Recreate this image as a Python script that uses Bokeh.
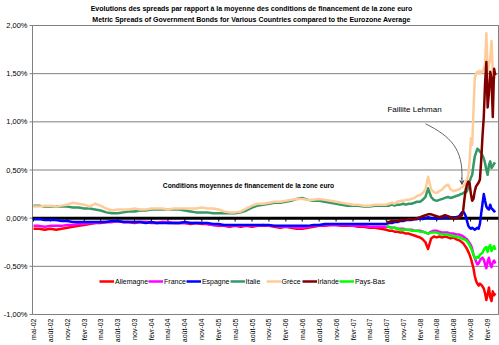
import math
import pandas as pd
from bokeh.plotting import figure
from bokeh.models import Range1d, Legend, LegendItem, Label, Arrow, VeeHead
from bokeh.embed import file_html
from bokeh.resources import INLINE

FONT = "Liberation Sans"

# ---- dates: monthly, then semi-monthly, then weekly ----
start = pd.Timestamp("2002-05-01")
dates = (list(pd.date_range("2002-05-01", "2007-07-01", freq="MS"))
         + list(pd.date_range("2007-08-01", "2008-08-15", freq="SMS"))
         + list(pd.date_range("2008-09-01", "2009-03-16", freq="7D")))
xdays = [(d - start).days for d in dates]

# ---- series (% spread vs eurozone average) ----
allemagne = [-0.11, -0.11, -0.12, -0.11, -0.12, -0.11, -0.10, -0.09, -0.08, -0.07, -0.06, -0.05,
             -0.05, -0.04, -0.04, -0.03, -0.04, -0.04, -0.05, -0.04, -0.04, -0.05, -0.05, -0.04,
             -0.05, -0.05, -0.05, -0.05, -0.06, -0.05, -0.06, -0.06, -0.07, -0.08, -0.08, -0.09,
             -0.08, -0.09, -0.08, -0.09, -0.08, -0.08, -0.08, -0.09, -0.10, -0.09, -0.10, -0.11,
             -0.11, -0.10, -0.09, -0.08, -0.08, -0.07, -0.07, -0.08, -0.08, -0.08, -0.09, -0.09, -0.10, -0.10, -0.11,
             -0.12, -0.13, -0.13, -0.14, -0.14, -0.15, -0.15, -0.16, -0.16, -0.17, -0.18, -0.19, -0.20,
             -0.22, -0.25, -0.32, -0.21, -0.19, -0.20, -0.19, -0.20, -0.19, -0.20, -0.21, -0.20, -0.22,
             -0.23, -0.24, -0.25, -0.26, -0.28, -0.30, -0.32, -0.35, -0.38, -0.42, -0.47, -0.52, -0.60,
             -0.65, -0.68, -0.70, -0.68, -0.69, -0.71, -0.73, -0.78, -0.85, -0.79, -0.72, -0.82, -0.86,
             -0.76, -0.80, -0.78]
france = [-0.08, -0.08, -0.09, -0.08, -0.08, -0.08, -0.07, -0.07, -0.06, -0.06, -0.05, -0.05,
          -0.04, -0.04, -0.04, -0.03, -0.04, -0.04, -0.04, -0.04, -0.04, -0.04, -0.05, -0.04,
          -0.04, -0.05, -0.05, -0.05, -0.05, -0.05, -0.05, -0.06, -0.07, -0.07, -0.08, -0.08,
          -0.08, -0.08, -0.08, -0.08, -0.08, -0.07, -0.08, -0.08, -0.09, -0.09, -0.09, -0.10,
          -0.10, -0.09, -0.08, -0.08, -0.07, -0.07, -0.07, -0.07, -0.07, -0.08, -0.08, -0.08, -0.09, -0.09, -0.09,
          -0.09, -0.09, -0.10, -0.10, -0.11, -0.11, -0.11, -0.12, -0.12, -0.12, -0.13, -0.13, -0.13,
          -0.14, -0.15, -0.16, -0.14, -0.13, -0.13, -0.14, -0.15, -0.15, -0.15, -0.16, -0.16, -0.17,
          -0.17, -0.18, -0.18, -0.19, -0.20, -0.21, -0.22, -0.24, -0.26, -0.28, -0.32, -0.38, -0.41,
          -0.45, -0.48, -0.47, -0.44, -0.42, -0.41, -0.43, -0.48, -0.52, -0.45, -0.41, -0.48, -0.51,
          -0.46, -0.44, -0.47]
espagne = [-0.01, -0.01, -0.02, -0.02, -0.02, -0.03, -0.03, -0.04, -0.04, -0.04, -0.04, -0.04,
           -0.04, -0.04, -0.03, -0.03, -0.04, -0.04, -0.04, -0.04, -0.05, -0.04, -0.05, -0.05,
           -0.05, -0.05, -0.05, -0.04, -0.05, -0.05, -0.05, -0.05, -0.06, -0.06, -0.07, -0.07,
           -0.07, -0.07, -0.07, -0.07, -0.07, -0.07, -0.07, -0.08, -0.08, -0.08, -0.08, -0.08,
           -0.08, -0.08, -0.07, -0.07, -0.06, -0.06, -0.06, -0.06, -0.06, -0.06, -0.06, -0.06, -0.06, -0.06, -0.06,
           -0.06, -0.05, -0.05, -0.04, -0.04, -0.03, -0.03, -0.02, -0.02, -0.02, -0.01, -0.01, 0.00,
           -0.01, 0.00, 0.01, 0.00, 0.00, -0.01, 0.00, 0.00, 0.01, 0.00, 0.01, 0.01, 0.01,
           0.02, 0.04, 0.06, 0.07, 0.05, 0.02, -0.03, -0.08, -0.10, -0.11, -0.10, -0.11, -0.12,
           -0.11, -0.10, -0.11, -0.06, 0.05, 0.15, 0.25, 0.18, 0.12, 0.10, 0.09, 0.14, 0.10,
           0.09, 0.07, 0.08]
italie = [0.13, 0.13, 0.12, 0.12, 0.12, 0.12, 0.12, 0.11, 0.11, 0.10, 0.10, 0.09,
          0.08, 0.06, 0.05, 0.05, 0.06, 0.07, 0.07, 0.08, 0.08, 0.09, 0.09, 0.09,
          0.09, 0.09, 0.09, 0.08, 0.07, 0.06, 0.06, 0.06, 0.05, 0.05, 0.05, 0.05,
          0.05, 0.06, 0.08, 0.11, 0.13, 0.14, 0.15, 0.16, 0.16, 0.17, 0.18, 0.20,
          0.21, 0.19, 0.18, 0.18, 0.17, 0.16, 0.15, 0.14, 0.13, 0.13, 0.13, 0.12, 0.12, 0.13, 0.13,
          0.13, 0.13, 0.14, 0.13, 0.14, 0.14, 0.15, 0.14, 0.15, 0.15, 0.16, 0.17, 0.17,
          0.19, 0.22, 0.31, 0.22, 0.19, 0.18, 0.19, 0.20, 0.21, 0.22, 0.21, 0.22, 0.23,
          0.24, 0.25, 0.25, 0.26, 0.27, 0.27, 0.28, 0.32, 0.38, 0.42, 0.45, 0.55, 0.64,
          0.68, 0.72, 0.71, 0.69, 0.68, 0.65, 0.62, 0.57, 0.50, 0.45, 0.55, 0.59, 0.52,
          0.54, 0.57, 0.56]
grece = [0.12, 0.12, 0.13, 0.13, 0.12, 0.13, 0.14, 0.16, 0.15, 0.14, 0.12, 0.15,
         0.13, 0.10, 0.08, 0.09, 0.09, 0.09, 0.10, 0.09, 0.09, 0.10, 0.10, 0.10,
         0.09, 0.10, 0.10, 0.10, 0.10, 0.10, 0.11, 0.10, 0.10, 0.09, 0.07, 0.06,
         0.06, 0.07, 0.10, 0.13, 0.15, 0.15, 0.16, 0.17, 0.17, 0.18, 0.19, 0.20,
         0.20, 0.19, 0.19, 0.20, 0.19, 0.18, 0.17, 0.16, 0.15, 0.14, 0.14, 0.13, 0.13, 0.14, 0.14,
         0.14, 0.15, 0.16, 0.15, 0.17, 0.18, 0.18, 0.19, 0.19, 0.20, 0.21, 0.23, 0.24,
         0.26, 0.30, 0.43, 0.30, 0.27, 0.26, 0.28, 0.30, 0.33, 0.35, 0.30, 0.28, 0.29,
         0.30, 0.31, 0.32, 0.33, 0.35, 0.37, 0.40, 0.45, 0.60, 0.83, 0.76, 1.12, 1.45,
         1.50, 1.52, 1.50, 1.53, 1.51, 1.52, 1.55, 1.60, 1.92, 1.52, 1.60, 1.65, 1.84,
         1.50, 1.47, 1.45]
# Ireland and the Netherlands start in August 2007
irlande = [-0.04, -0.04, -0.03, -0.03, -0.03, -0.02, -0.02, -0.02, -0.01, -0.01, -0.01, 0.00, 0.01,
           0.02, 0.03, 0.04, 0.04, 0.03, 0.02, 0.01, 0.02, 0.03, 0.02, 0.01, 0.00, 0.00,
           0.01, 0.02, 0.03, 0.08, 0.20, 0.30, 0.35, 0.38, 0.36, 0.25, 0.18, 0.20, 0.28,
           0.33, 0.35, 0.37, 0.40, 0.60, 0.85, 1.05, 1.40, 1.62, 1.15, 1.30, 1.52, 1.45,
           1.05, 1.55, 1.48]
pays_bas = [-0.08, -0.09, -0.10, -0.10, -0.11, -0.12, -0.12, -0.12, -0.12, -0.13, -0.13, -0.13, -0.14,
            -0.14, -0.15, -0.16, -0.15, -0.15, -0.15, -0.16, -0.17, -0.17, -0.17, -0.18, -0.19, -0.19,
            -0.20, -0.20, -0.21, -0.22, -0.22, -0.23, -0.24, -0.26, -0.28, -0.31, -0.34, -0.38, -0.41,
            -0.42, -0.40, -0.41, -0.38, -0.37, -0.36, -0.33, -0.31, -0.30, -0.35, -0.30, -0.28, -0.34,
            -0.31, -0.29, -0.33]

series_names = ["Allemagne", "France", "Espagne", "Italie", "Grèce", "Irlande", "Pays-Bas"]
series_values = [allemagne, france, espagne, italie, grece, irlande, pays_bas]
series_colors = ["#FF0000", "#FF00FF", "#0000FF", "#339966", "#FFCC99", "#800000", "#00FF00"]

y_ticks = [-1.0, -0.5, 0.0, 0.5, 1.0, 1.5, 2.0]
y_labels = [f"{v:.2f}".replace(".", ",") + "%" for v in y_ticks]
tick_dates = list(pd.date_range("2002-05-01", "2009-02-01", freq="3MS"))
fr_months = {2: "févr", 5: "mai", 8: "août", 11: "nov"}
x_ticks = [(d - start).days for d in tick_dates]
x_labels = [f"{fr_months[d.month]}-{d.year % 100:02d}" for d in tick_dates]

title1 = "Evolutions des spreads par rapport à la moyenne des conditions de financement de la zone euro"
title2 = "Metric Spreads of Government Bonds for Various Countries compared to the Eurozone Average"

# The plot box spans canvas columns 32..498 and rows 25..314; the Bokeh frame is the whole
# canvas so that titles, tick labels and the box are all drawn inside it.
W, H = 499, 345
BOX_L, BOX_R, BOX_T, BOX_B = 32, 498, 25, 314
y_min, y_max = -1.0, 2.0
box_left, box_right = -5.4, 2528.0
kx = (BOX_R - BOX_L) / (box_right - box_left)     # px per day
ky = (BOX_B - BOX_T) / (y_max - y_min)            # px per percent
x_lo = box_left - BOX_L / kx
x_hi = box_right + (W - BOX_R) / kx
y_lo = y_min - (H - BOX_B) / ky
y_hi = y_max + BOX_T / ky

p = figure(width=W, height=H, output_backend="svg", toolbar_location=None, title=None,
           x_range=Range1d(x_lo, x_hi), y_range=Range1d(y_lo, y_hi),
           min_border_left=0, min_border_right=0, min_border_top=0, min_border_bottom=0)
p.background_fill_color = "white"
p.border_fill_color = "white"
p.outline_line_color = None
p.xaxis.visible = False
p.yaxis.visible = False
p.xgrid.visible = False
p.ygrid.visible = False

# horizontal gridlines inside the box
p.segment(x0=[box_left] * len(y_ticks), y0=y_ticks, x1=[box_right] * len(y_ticks), y1=y_ticks,
          line_color="#808080", line_width=1)
# plot box
p.line(x=[box_left, box_right, box_right, box_left, box_left],
       y=[y_max, y_max, y_min, y_min, y_max], line_color="#808080", line_width=1)
# y tick marks and labels
tick_len = 3 / kx
p.segment(x0=[box_left - tick_len] * len(y_ticks), y0=y_ticks,
          x1=[box_left] * len(y_ticks), y1=y_ticks, line_color="#808080", line_width=1)
for v, lab in zip(y_ticks, y_labels):
    p.add_layout(Label(x=box_left, y=v, x_offset=-5, text=lab, text_align="right",
                       text_baseline="middle", text_font=FONT, text_font_size="7.5px",
                       text_color="#000000"))

# rotated date labels below the box
for t, lab in zip(x_ticks, x_labels):
    p.add_layout(Label(x=t, y=y_min, y_offset=-4, text=lab, angle=math.pi / 2,
                       text_align="right", text_baseline="middle", text_font=FONT,
                       text_font_size="7px", text_color="#000000"))

# zero reference line with tick marks
p.line(x=[box_left, box_right], y=[0, 0], line_color="black", line_width=3)
p.segment(x0=x_ticks, y0=[0] * len(x_ticks), x1=x_ticks, y1=[-0.035] * len(x_ticks),
          line_color="black", line_width=1)

items = []
for name, vals, col in zip(series_names, series_values, series_colors):
    xs = xdays[len(xdays) - len(vals):]
    r = p.line(x=xs, y=vals, line_color=col, line_width=2.5, line_join="round")
    items.append(LegendItem(label=name, renderers=[r]))

legend = Legend(items=items, orientation="horizontal", location=(99, 51),
                label_text_font=FONT, label_text_font_size="7px", label_text_color="#000000",
                glyph_width=15, glyph_height=26, label_standoff=1, spacing=0, padding=2, margin=0,
                label_height=26, background_fill_color="white", background_fill_alpha=1.0,
                border_line_color=None)
p.add_layout(legend, "center")

# titles (canvas-relative screen coordinates, y from the bottom)
for txt, yy in [(title1, H - 8), (title2, H - 19)]:
    p.add_layout(Label(x=251, y=yy, x_units="screen", y_units="screen", text=txt,
                       text_align="center", text_baseline="middle", text_font=FONT,
                       text_font_size="7px", text_font_style="bold", text_color="#000000"))

p.add_layout(Label(x=248, y=H - 185, x_units="screen", y_units="screen",
                   text="Conditions moyennes de financement de la zone euro",
                   text_align="center", text_baseline="middle", text_font=FONT,
                   text_font_size="6.7px", text_font_style="bold", text_color="#000000"))

p.add_layout(Label(x=414, y=H - 109, x_units="screen", y_units="screen", text="Faillite Lehman",
                   text_align="center", text_baseline="middle", text_font=FONT,
                   text_font_size="8px", text_color="#000000"))

# curved pointer towards mid-September 2008
lehman = (pd.Timestamp("2008-09-15") - start).days
src = (pd.Timestamp("2008-03-01") - start).days
p.bezier(x0=[src], y0=[0.98], x1=[lehman], y1=[0.40],
         cx0=[(pd.Timestamp("2008-07-15") - start).days], cy0=[0.85],
         cx1=[lehman + 8], cy1=[0.72], line_color="#404040", line_width=0.8)
p.add_layout(Arrow(end=VeeHead(size=4, line_color="#404040", fill_color="#404040", line_width=0.8),
                   x_start=lehman, y_start=0.42, x_end=lehman, y_end=0.35,
                   line_color="#404040", line_width=0.8))

open("out.html", "w").write(file_html(p, INLINE))
